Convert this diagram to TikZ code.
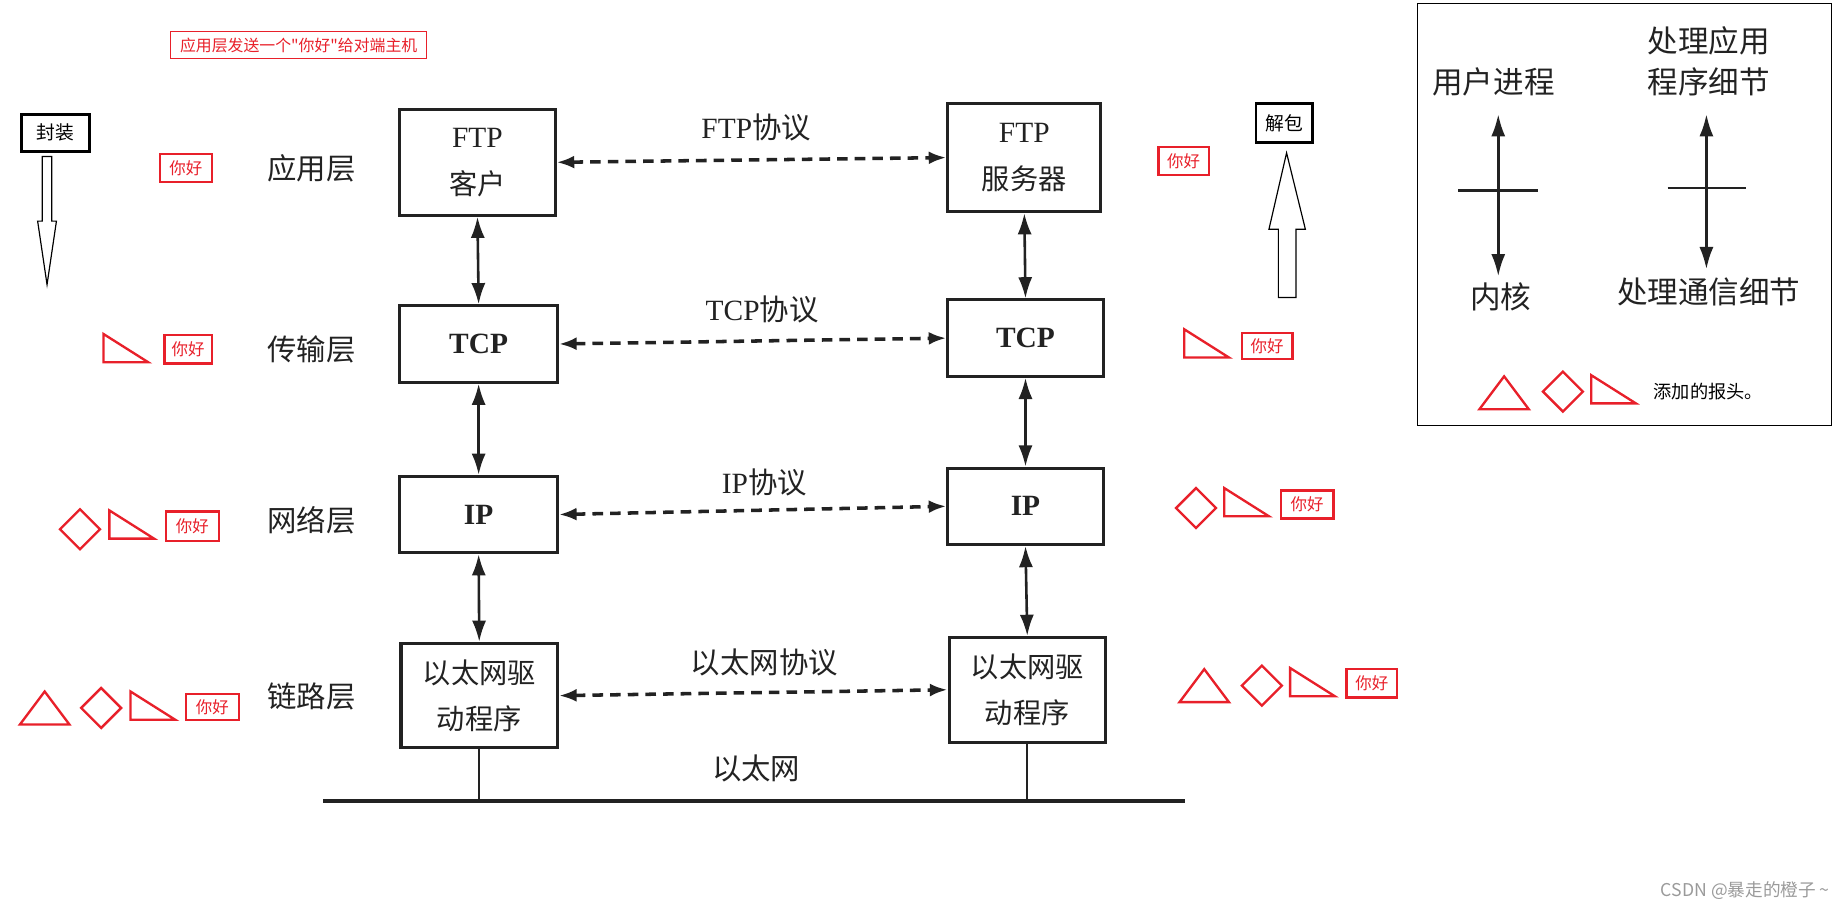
\documentclass[tikz,border=0pt]{standalone}
\usepackage{fontspec}
\setmainfont{Liberation Serif}
\newfontfamily\cjk{Noto Sans CJK SC}
\usetikzlibrary{arrows.meta}
\definecolor{ink}{HTML}{222222}
\definecolor{mark}{HTML}{E8202A}
\definecolor{wmgray}{HTML}{9A9A9A}
\begin{document}
\begin{tikzpicture}[x=1pt,y=-1pt,
  layerbox/.style={draw=ink, line width=2.6pt, inner sep=0pt, align=center, text=ink,
     font=\fontsize{25}{40}\selectfont},
  layerlabel/.style={text=ink, inner sep=0pt, font=\cjk\fontsize{25}{30}\selectfont},
  protolabel/.style={text=ink, inner sep=0pt, font=\fontsize{25}{30}\selectfont},
  legendtext/.style={text=ink, inner sep=0pt, align=center, font=\cjk\fontsize{26}{35}\selectfont},
  hello/.style={draw=mark, line width=2pt, text=mark, inner sep=0pt, font=\cjk\fontsize{14}{16}\selectfont},
  blackbox/.style={draw=black, line width=2.5pt, inner sep=0pt, font=\cjk\fontsize{16}{18}\selectfont},
  vdarrow/.style={draw=ink, line width=2.2pt, {Latex[length=18pt,width=12pt]}-{Latex[length=18pt,width=12pt]}},
  dasharrow/.style={draw=ink, line width=3pt, dash pattern=on 9pt off 6pt,
     {Latex[length=15pt,width=11pt]}-{Latex[length=15pt,width=11pt]}},
  legarrow/.style={draw=ink, line width=2.4pt, {Latex[length=19pt,width=12pt]}-{Latex[length=19pt,width=12pt]}},
  redmark/.style={draw=mark, line width=2pt, line join=miter},
  hollow/.style={draw=black, line width=1pt, fill=white},
  rtri/.pic={\draw[redmark] (0,0) -- (0,24) -- (38,24) -- cycle;},
  utri/.pic={\draw[redmark] (0,28) -- (21,0) -- (42,28) -- cycle;},
  diam/.pic={\draw[redmark] (-17,0) -- (0,-17) -- (17,0) -- (0,17) -- cycle;}
]
\useasboundingbox (0,0) rectangle (1568,774);

% title
\node[draw=mark, line width=1pt, text=mark, minimum width=218pt, minimum height=23pt, inner sep=0pt,
  font=\cjk\fontsize{13.5}{15}\selectfont] (title) at (254,38.5) {应用层发送一个"你好"给对端主机};

% encapsulate / decapsulate
\node[blackbox, minimum width=58pt, minimum height=32pt] (enc) at (47,113) {封装};
\draw[hollow] (36,133) -- (44,133) -- (44,188) -- (48,188) -- (40,242) -- (32,188) -- (36,188) -- cycle;
\node[blackbox, minimum width=48pt, minimum height=33pt] (dec) at (1092,104.5) {解包};
\draw[hollow] (1094,130) -- (1110,195) -- (1102,195) -- (1102,253) -- (1087,253) -- (1087,195) -- (1079,195) -- cycle;

% layer labels
\node[layerlabel] (lapp) at (265,143) {应用层};
\node[layerlabel] (ltra) at (265,297) {传输层};
\node[layerlabel] (lnet) at (265,442) {网络层};
\node[layerlabel] (llnk) at (265,592) {链路层};

% client stack
\node[layerbox, minimum width=132pt, minimum height=90pt] (ftpL) at (406,138) {FTP\\{\cjk\fontsize{24}{40}\selectfont 客户}};
\node[layerbox, minimum width=134pt, minimum height=65pt] (tcpL) at (407,292.5) {\bfseries TCP};
\node[layerbox, minimum width=134pt, minimum height=65pt] (ipL) at (407,437.5) {\bfseries IP};
\node[layerbox, minimum width=133pt, minimum height=89pt, font=\cjk\fontsize{24}{39}\selectfont] (ethL) at (407.5,591.5) {以太网驱\\动程序};

% server stack
\node[layerbox, minimum width=130pt, minimum height=92pt] (ftpR) at (871,134) {FTP\\{\cjk\fontsize{24}{40}\selectfont 服务器}};
\node[layerbox, minimum width=132pt, minimum height=65pt] (tcpR) at (872,287.5) {\bfseries TCP};
\node[layerbox, minimum width=132pt, minimum height=65pt] (ipR) at (872,430.5) {\bfseries IP};
\node[layerbox, minimum width=133pt, minimum height=89pt, font=\cjk\fontsize{24}{39}\selectfont] (ethR) at (873.5,586.5) {以太网驱\\动程序};

% vertical arrows
\draw[vdarrow] (ftpL.south) -- (tcpL.north);
\draw[vdarrow] (tcpL.south) -- (ipL.north);
\draw[vdarrow] (ipL.south) -- (ethL.north);
\draw[vdarrow] (ftpR.south) -- (tcpR.north);
\draw[vdarrow] (tcpR.south) -- (ipR.north);
\draw[vdarrow] (ipR.south) -- (ethR.north);

% protocol arrows
\draw[dasharrow] (ftpL.east) -- (ftpR.west);
\draw[dasharrow] (tcpL.east) -- (tcpR.west);
\draw[dasharrow] (ipL.east) -- (ipR.west);
\draw[dasharrow] (ethL.east) -- (ethR.west);
\node[protolabel] (pftp) at (643,108) {FTP{\cjk 协议}};
\node[protolabel] (ptcp) at (648,263) {TCP{\cjk 协议}};
\node[protolabel] (pip) at (650,410) {IP{\cjk 协议}};
\node[protolabel, font=\cjk\fontsize{25}{30}\selectfont] (peth) at (650,563) {以太网协议};

% ethernet bus
\coordinate (busL) at (275,681);
\coordinate (busR) at (1008,681);
\draw[ink, line width=4pt] (busL) -- (busR);
\draw[ink, line width=2pt] (ethL.south) -- (ethL.south |- busL);
\draw[ink, line width=2pt] (ethR.south) -- (ethR.south |- busL);
\node[layerlabel] (leth) at (643,653) {以太网};

% left red annotations
\node[hello, minimum width=44pt, minimum height=24pt] (h1) at (158,143) {你好};
\pic at (88,284) {rtri};
\node[hello, minimum width=40pt, minimum height=24pt] (h2) at (160,297) {你好};
\pic at (68,450) {diam};
\pic at (93,434) {rtri};
\node[hello, minimum width=45pt, minimum height=25pt] (h3) at (163.5,447.5) {你好};
\pic at (17,588) {utri};
\pic at (86,602) {diam};
\pic at (111,588) {rtri};
\node[hello, minimum width=45pt, minimum height=22pt] (h4) at (180.5,601) {你好};

% right red annotations
\node[hello, minimum width=43pt, minimum height=24pt] (h5) at (1006.5,137) {你好};
\pic at (1007,280) {rtri};
\node[hello, minimum width=43pt, minimum height=22pt] (h6) at (1077.5,294) {你好};
\pic at (1017,432) {diam};
\pic at (1041,415) {rtri};
\node[hello, minimum width=45pt, minimum height=24pt] (h7) at (1111.5,429) {你好};
\pic at (1003,569) {utri};
\pic at (1073,583) {diam};
\pic at (1097,568) {rtri};
\node[hello, minimum width=43pt, minimum height=24pt] (h8) at (1166.5,581) {你好};

% legend
\draw[black, line width=1pt] (1205,3) rectangle (1557,362);
\node[legendtext] (user) at (1270,70) {用户进程};
\node[legendtext] (kern) at (1276,252) {内核};
\node[legendtext] (appd) at (1453,52) {处理应用\\程序细节};
\node[legendtext] (comd) at (1453,248) {处理通信细节};
\coordinate (la1) at (1274,97);
\coordinate (la2) at (1274,235);
\coordinate (ra1) at (1451,97);
\coordinate (ra2) at (1451,229);
\draw[legarrow] (la1) -- (la2);
\draw[legarrow] (ra1) -- (ra2);
\draw[ink, line width=2.2pt] (1240,162) -- (1308,162);
\draw[ink, line width=2.2pt] (1418,160) -- (1485,160);
\pic at (1258,320) {utri};
\pic at (1329,333) {diam};
\pic at (1353,319) {rtri};
\node[inner sep=0pt, anchor=west, font=\cjk\fontsize{15.5}{18}\selectfont] (hdr) at (1406,333) {添加的报头。};

% watermark
\node[inner sep=0pt, anchor=east, text=wmgray, font=\cjk\fontsize{15}{18}\selectfont] (wm) at (1556,757) {CSDN @暴走的橙子 \textasciitilde};
\end{tikzpicture}
\end{document}
